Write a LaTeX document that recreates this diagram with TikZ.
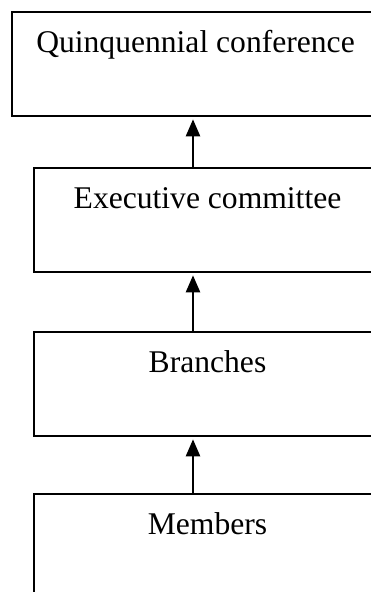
\documentclass[tikz,border=0pt]{standalone}
\usepackage{fontspec}
\setmainfont{Liberation Serif}
\usetikzlibrary{arrows.meta}
\begin{document}
\begin{tikzpicture}[x=1pt,y=-1pt,
  orgbox/.style={draw=black, line width=1.8pt, rectangle, inner sep=0pt,
    anchor=north, minimum height=104pt, text height=40.5pt, text depth=63.5pt,
    font=\fontsize{31.6}{38}\selectfont},
  uparrow/.style={draw=black, line width=2.4pt,
    -{Triangle[width=14pt,length=17pt]}, shorten >=2.5pt}]
\useasboundingbox (0,0) rectangle (371,592);
\clip (0,0) rectangle (371,592);
\node[orgbox, minimum width=367pt] (conf) at (195.5,11) {Quinquennial conference};
\node[orgbox, minimum width=347pt] (exec) at (207.5,167) {Executive committee};
\node[orgbox, minimum width=347pt] (branch) at (207.5,331) {Branches};
\node[orgbox, minimum width=347pt] (memb) at (207.5,493) {Members};
\coordinate (ax) at (193,0);
\draw[uparrow] (exec.north -| ax) -- (conf.south -| ax);
\draw[uparrow] (branch.north -| ax) -- (exec.south -| ax);
\draw[uparrow] (memb.north -| ax) -- (branch.south -| ax);
\end{tikzpicture}
\end{document}
